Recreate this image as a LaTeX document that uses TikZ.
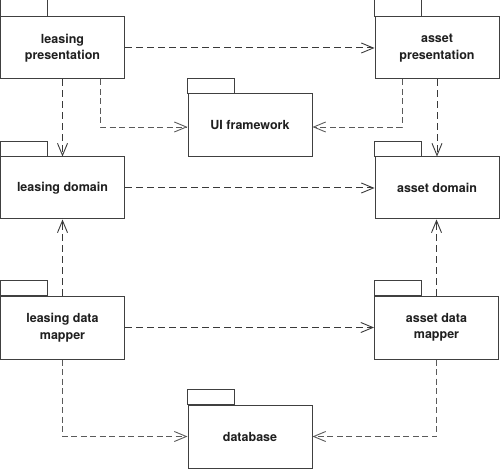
\documentclass[tikz,border=0pt]{standalone}
\usepackage{fontspec}
\setmainfont{TeX Gyre Heros}
\usetikzlibrary{arrows.meta}
\definecolor{boxline}{HTML}{404040}
\definecolor{depmain}{HTML}{3A3A3A}
\definecolor{deplight}{HTML}{5A5A5A}
\tikzset{
  x=1pt, y=1pt,
  pkg/.style={draw=boxline, line width=1pt, fill=white, align=center,
    inner sep=0pt, font=\fontsize{12.5}{16.5}\selectfont\bfseries, text=black!88},
  pkgtab/.style={draw=boxline, line width=1pt},
  tipV/.style={-{Straight Barb[length=12pt,width=10pt,line width=0.9pt]}},
  depmainline/.style={tipV, draw=depmain, line width=1pt, dash pattern=on 7pt off 4pt},
  deplightline/.style={tipV, draw=deplight, line width=0.85pt, dash pattern=on 6pt off 3.5pt},
}
\begin{document}
\begin{tikzpicture}
\useasboundingbox (0,0) rectangle (500,469);
% packages
\node[pkg, minimum width=124pt, minimum height=62pt] (lp) at (62.5,421) {leasing\\presentation};
\node[pkg, minimum width=124pt, minimum height=62pt] (ap) at (437,421) {asset\\presentation};
\node[pkg, minimum width=124pt, minimum height=63pt] (ui) at (250,343.5) {UI framework};
\node[pkg, minimum width=124pt, minimum height=62pt] (ld) at (62.5,281) {leasing domain};
\node[pkg, minimum width=124pt, minimum height=62pt] (ad) at (437,281) {asset domain};
\node[pkg, minimum width=124pt, minimum height=63pt] (ldm) at (62.5,141.5) {leasing data\\mapper};
\node[pkg, minimum width=124pt, minimum height=63pt] (adm) at (436.5,141.5) {asset data\\mapper};
\node[pkg, minimum width=124pt, minimum height=63pt] (db) at (250,32.5) {database};
% tabs
\foreach \n in {lp,ap}{
  \draw[pkgtab] (\n.north west) rectangle ++(47,16.5);
}
\foreach \n in {ui,ld,ad,ldm,adm,db}{
  \draw[pkgtab] (\n.north west) rectangle ++(47,15);
}
% dependencies
\draw[depmainline] (lp.east) -- (ap.west);
\draw[depmainline] (lp.south) -- (ld.north);
\draw[depmainline] (ap.south) -- (ad.north);
\draw[depmainline] (ld.east) -- (ad.west);
\draw[depmainline] (ldm.north) -- (ld.south);
\draw[depmainline] (adm.north) -- (adm.north |- ad.south);
\draw[depmainline] (ldm.east) -- (adm.west);
\draw[deplightline] ([xshift=37.5pt]lp.south) |- ([yshift=-1.5pt]ui.west);
\draw[deplightline] ([xshift=-35pt]ap.south) |- ([yshift=-1.5pt]ui.east);
\draw[deplightline] (ldm.south) |- (db.west);
\draw[deplightline] (adm.south) |- (db.east);
\end{tikzpicture}
\end{document}
